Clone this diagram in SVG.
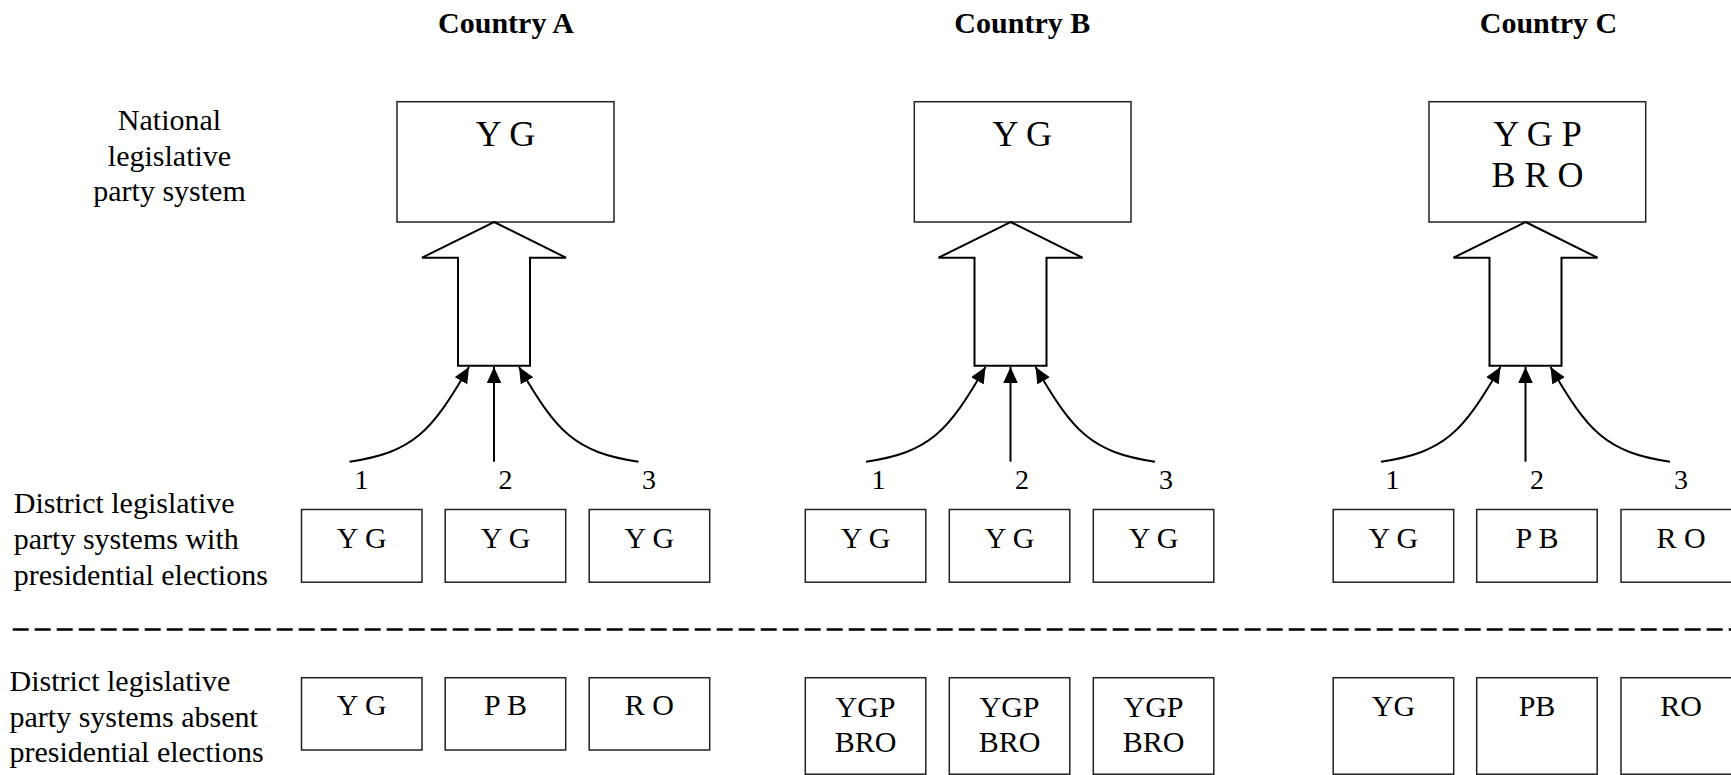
<svg xmlns="http://www.w3.org/2000/svg" width="1731" height="775" viewBox="0 0 1731 775">
<style>
text{font-family:"Liberation Serif","Times New Roman",serif;fill:#000}
.title{font-size:30px;font-weight:bold;text-anchor:middle}
.lab{font-size:30px}
.labc{font-size:30px;text-anchor:middle}
.nat{font-size:36px;text-anchor:middle}
.bx{font-size:30px;text-anchor:middle}
.num{font-size:28px;text-anchor:middle}
.box{fill:#fff;stroke:#222;stroke-width:1.5}
.block{fill:#fff;stroke:#000;stroke-width:2;stroke-linejoin:miter}
.conn{fill:none;stroke:#000;stroke-width:2}
.dash{stroke:#000;stroke-width:2.6;stroke-dasharray:16 6}
</style>
<defs>
<marker id="ah" markerUnits="userSpaceOnUse" markerWidth="17" markerHeight="15" refX="16" refY="7.25" orient="auto">
<path d="M0,0 L16,7.25 L0,14.5 Z" fill="#000"/>
</marker>
</defs>

<g id="titles">
<text class="title" x="506" y="33">Country A</text>
<text class="title" x="1022.3" y="33">Country B</text>
<text class="title" x="1548.5" y="33">Country C</text>
</g>

<g id="row-labels">
<text class="labc" x="169.5" y="130">National</text>
<text class="labc" x="169.5" y="165.7">legislative</text>
<text class="labc" x="169.5" y="201">party system</text>
<text class="lab" x="13.8" y="513.3">District legislative</text>
<text class="lab" x="13.8" y="549">party systems with</text>
<text class="lab" x="13.8" y="584.7">presidential elections</text>
<text class="lab" x="9.5" y="691">District legislative</text>
<text class="lab" x="9.5" y="726.5">party systems absent</text>
<text class="lab" x="9.5" y="762">presidential elections</text>
</g>

<line class="dash" x1="12.7" y1="629.5" x2="1731" y2="629.5"/>

<!-- Country A -->
<g id="A-national">
<rect class="box" x="397" y="101.7" width="217" height="120.3"/>
<text class="nat" x="505.5" y="145.7">Y G</text>
</g>
<g id="A-arrow">
<path class="block" d="M494,222 L566,257.7 L530,257.7 L530,365.7 L458,365.7 L458,257.7 L422,257.7 Z"/>
</g>
<g id="A-d1"><rect class="box" x="301.5" y="509.5" width="120.5" height="72.7"/><text class="bx" x="361.7" y="548.3">Y G</text></g>
<g id="A-d2"><rect class="box" x="445.2" y="509.5" width="120.5" height="72.7"/><text class="bx" x="505.5" y="548.3">Y G</text></g>
<g id="A-d3"><rect class="box" x="589.2" y="509.5" width="120.5" height="72.7"/><text class="bx" x="649.4" y="548.3">Y G</text></g>
<g id="A-n1"><rect class="box" x="301.5" y="677.7" width="120.5" height="72.3"/><text class="bx" x="361.7" y="715">Y G</text></g>
<g id="A-n2"><rect class="box" x="445.2" y="677.7" width="120.5" height="72.3"/><text class="bx" x="505.5" y="715">P B</text></g>
<g id="A-n3"><rect class="box" x="589.2" y="677.7" width="120.5" height="72.3"/><text class="bx" x="649.4" y="715">R O</text></g>

<!-- Country B -->
<g id="B-national">
<rect class="box" x="914.3" y="101.7" width="216.7" height="120.3"/>
<text class="nat" x="1022.3" y="145.7">Y G</text>
</g>
<g id="B-arrow">
<path class="block" d="M1010.5,222 L1082.5,257.7 L1046.5,257.7 L1046.5,365.7 L974.5,365.7 L974.5,257.7 L938.5,257.7 Z"/>
</g>
<g id="B-d1"><rect class="box" x="805.3" y="509.5" width="120.5" height="72.7"/><text class="bx" x="865.5" y="548.3">Y G</text></g>
<g id="B-d2"><rect class="box" x="949.3" y="509.5" width="120.5" height="72.7"/><text class="bx" x="1009.5" y="548.3">Y G</text></g>
<g id="B-d3"><rect class="box" x="1093.3" y="509.5" width="120.5" height="72.7"/><text class="bx" x="1153.5" y="548.3">Y G</text></g>
<g id="B-n1"><rect class="box" x="805.3" y="677.7" width="120.5" height="96.5"/><text class="bx" x="865.5" y="716.7">YGP</text><text class="bx" x="865.5" y="752.3">BRO</text></g>
<g id="B-n2"><rect class="box" x="949.3" y="677.7" width="120.5" height="96.5"/><text class="bx" x="1009.5" y="716.7">YGP</text><text class="bx" x="1009.5" y="752.3">BRO</text></g>
<g id="B-n3"><rect class="box" x="1093.3" y="677.7" width="120.5" height="96.5"/><text class="bx" x="1153.5" y="716.7">YGP</text><text class="bx" x="1153.5" y="752.3">BRO</text></g>

<!-- Country C -->
<g id="C-national">
<rect class="box" x="1429" y="101.7" width="216.7" height="120.3"/>
<text class="nat" x="1537.5" y="145.7">Y G P</text>
<text class="nat" x="1537.5" y="187.3">B R O</text>
</g>
<g id="C-arrow">
<path class="block" d="M1525.5,222 L1597.5,257.7 L1561.5,257.7 L1561.5,365.7 L1489.5,365.7 L1489.5,257.7 L1453.5,257.7 Z"/>
</g>
<g id="C-d1"><rect class="box" x="1333.2" y="509.5" width="120.5" height="72.7"/><text class="bx" x="1393.4" y="548.3">Y G</text></g>
<g id="C-d2"><rect class="box" x="1476.7" y="509.5" width="120.5" height="72.7"/><text class="bx" x="1537" y="548.3">P B</text></g>
<g id="C-d3"><rect class="box" x="1621" y="509.5" width="120.5" height="72.7"/><text class="bx" x="1681.2" y="548.3">R O</text></g>
<g id="C-n1"><rect class="box" x="1333.2" y="677.7" width="120.5" height="96.5"/><text class="bx" x="1393.4" y="715.7">YG</text></g>
<g id="C-n2"><rect class="box" x="1476.7" y="677.7" width="120.5" height="96.5"/><text class="bx" x="1537" y="715.7">PB</text></g>
<g id="C-n3"><rect class="box" x="1621" y="677.7" width="120.5" height="96.5"/><text class="bx" x="1681.2" y="715.7">RO</text></g>

<g id="district-numbers">
<text class="num" x="361.5" y="489">1</text>
<text class="num" x="505.6" y="489">2</text>
<text class="num" x="649" y="489">3</text>
<text class="num" x="878.5" y="489">1</text>
<text class="num" x="1022" y="489">2</text>
<text class="num" x="1166" y="489">3</text>
<text class="num" x="1392.5" y="489">1</text>
<text class="num" x="1537" y="489">2</text>
<text class="num" x="1681" y="489">3</text>
</g>

<g id="connectors">
<path class="conn" marker-end="url(#ah)" d="M349.5,461.7 C414,452 431,432 469,367"/>
<path class="conn" marker-end="url(#ah)" d="M494,461.7 L494,367"/>
<path class="conn" marker-end="url(#ah)" d="M638.5,461.7 C574,452 557,432 519,367"/>

<path class="conn" marker-end="url(#ah)" d="M866,461.7 C930.5,452 947.5,432 985.5,367"/>
<path class="conn" marker-end="url(#ah)" d="M1010.5,461.7 L1010.5,367"/>
<path class="conn" marker-end="url(#ah)" d="M1155,461.7 C1090.5,452 1073.5,432 1035.5,367"/>

<path class="conn" marker-end="url(#ah)" d="M1381,461.7 C1445.5,452 1462.5,432 1500.5,367"/>
<path class="conn" marker-end="url(#ah)" d="M1525.5,461.7 L1525.5,367"/>
<path class="conn" marker-end="url(#ah)" d="M1670,461.7 C1605.5,452 1588.5,432 1550.5,367"/>
</g>
</svg>
